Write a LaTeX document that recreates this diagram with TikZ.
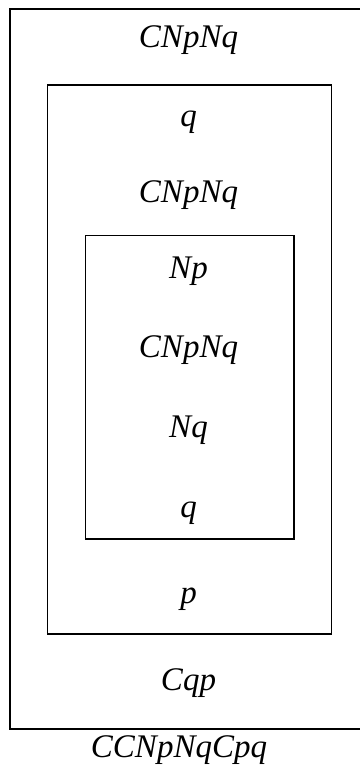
\documentclass[tikz,border=0pt]{standalone}
\usepackage{fontspec}
\setmainfont{Liberation Serif}
\begin{document}
\begin{tikzpicture}[x=1pt,y=-1pt,
  lbl/.style={anchor=base,inner sep=0pt,font=\fontsize{33}{40}\selectfont\itshape},
  frame/.style={draw=black}]
\useasboundingbox (0,0) rectangle (359,767);
\fill[white] (0,0) rectangle (359,767);
\draw[frame,line width=2pt] (10,9) rectangle (362,729);
\draw[frame,line width=1.7pt] (47.5,85) rectangle (331.5,634);
\draw[frame,line width=1.4pt] (85.5,235.5) rectangle (294,539);
\node[lbl] (t1) at (188.5,48) {CNpNq};
\node[lbl] (t2) at (188.5,127) {q};
\node[lbl] (t3) at (188.5,203) {CNpNq};
\node[lbl] (t4) at (188.5,278) {Np};
\node[lbl] (t5) at (188.5,357) {CNpNq};
\node[lbl] (t6) at (188.5,437) {Nq};
\node[lbl] (t7) at (188.5,517) {q};
\node[lbl] (t8) at (188.5,603) {p};
\node[lbl] (t9) at (188.5,690) {Cqp};
\node[lbl] (t10) at (179,757) {CCNpNqCpq};
\end{tikzpicture}
\end{document}
